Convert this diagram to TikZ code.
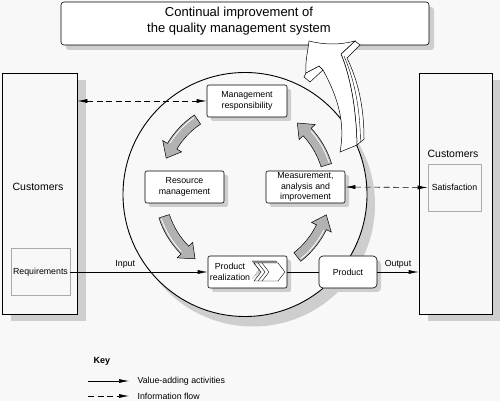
\documentclass[tikz,border=0pt]{standalone}
\usepackage{fontspec}
\setmainfont{Liberation Sans}
\usetikzlibrary{arrows.meta}
\usetikzlibrary{shadows}

\definecolor{bg}{RGB}{248,248,248}
\definecolor{shade}{RGB}{206,206,206}
\definecolor{blockgray}{RGB}{178,178,178}
\definecolor{edgegray}{RGB}{170,170,170}

\tikzset{
  shadowed/.style={drop shadow={shadow xshift=#1, shadow yshift=-#1, opacity=1, fill=shade}},
  stepbox/.style={draw, fill=white, rounded corners=2pt, align=center, inner sep=0pt,
    font=\fontsize{8.8}{10.5}\selectfont, shadowed=4pt},
  custbox/.style={draw, fill=bg, inner sep=0pt, minimum width=#1, minimum height=241pt,
    drop shadow={shadow xshift=9pt, shadow yshift=-7pt, opacity=1, fill=shade}},
  inbox/.style={draw=edgegray, fill=bg, inner sep=0pt, font=\fontsize{8.8}{10.5}\selectfont},
  small/.style={font=\fontsize{8.8}{10.5}\selectfont},
  flow/.style={-{Latex[length=10pt,width=4pt]}},
  info/.style={dashed, dash pattern=on 6pt off 3.5pt, {Latex[length=10pt,width=4pt]}-{Latex[length=10pt,width=4pt]}},
  infokey/.style={dashed, dash pattern=on 6pt off 3.5pt, -{Latex[length=10pt,width=4pt]}},
}

\begin{document}
\begin{tikzpicture}[x=1pt,y=1pt,line width=0.6pt]
  \fill[bg] (0,0) rectangle (500,401);

  % title
  \node[draw, fill=white, rounded corners=3pt, minimum width=368pt, minimum height=43pt,
    shadowed=5pt] (title) at (245,377.5) {};
  \node[align=center, font=\fontsize{13}{16}\selectfont] (titletext) at (239,380)
    {Continual improvement of\\the quality management system};

  % the cycle
  \draw[line width=0.9pt, fill=bg, drop shadow={shadow xshift=8pt, shadow yshift=-10pt, opacity=1, fill=shade}]
    (245,206.5) circle (122);

  % customers
  \node[custbox=75pt] (custL) at (39.5,207.5) {};
  \node[custbox=73pt] (custR) at (455.5,207.5) {};
  \node[font=\fontsize{10.5}{12}\selectfont] (custLtext) at (38,214) {Customers};
  \node[font=\fontsize{10.5}{12}\selectfont] (custRtext) at (453,247) {Customers};
  \node[inbox, minimum width=59pt, minimum height=47pt] (req) at (40.5,129) {Requirements};
  \node[inbox, minimum width=53pt, minimum height=47pt] (satis) at (454.5,213.5) {Satisfaction};

  % processes
  \node[stepbox, minimum width=80pt, minimum height=32pt] (mgmt) at (247,300) {Management\\responsibility};
  \node[stepbox, minimum width=79pt, minimum height=32pt] (res) at (184.5,214) {Resource\\management};
  \node[stepbox, minimum width=79pt, minimum height=32pt] (meas) at (305.5,214) {Measurement,\\analysis and\\improvement};
  \node[stepbox, minimum width=79pt, minimum height=32pt] (prodreal) at (247.5,129) {};
  \node[small, align=center] (prodrealtext) at (230,129) {Product\\realization};
  \node[stepbox, rounded corners=4pt, minimum width=58pt, minimum height=32pt] (prod) at (348,129) {Product};

  % chevron
  \fill[shade] (252,140) -- (276,140) -- (283,131) -- (276,122) -- (252,122) -- (259,131) -- cycle;
  \draw[fill=white, line width=0.4pt] (254,138) -- (278,138) -- (285,129) -- (278,120) -- (254,120) -- (261,129) -- cycle;
  \draw[line width=0.4pt] (258,138) -- (265,129) -- (258,120) (262,138) -- (269,129) -- (262,120);

  % block arrows of the cycle
  \foreach \a/\b in {124/158,198/234,308/343,17/52} {
    \draw[fill=blockgray, line width=0.5pt, shift={(245,211)}]
      (\a:90.5) arc[start angle=\a, end angle=\b-9, radius=90.5] -- ({\b-9}:96) -- (\b:85)
      -- ({\b-9}:74) -- ({\b-9}:79.5) arc[start angle=\b-9, end angle=\a, radius=79.5] -- cycle;
    \draw[white, line width=0.8pt, shift={(245,211)}]
      ({\a+1}:88.5) arc[start angle=\a+1, end angle=\b-10, radius=88.5];
  }

  % connectors
  \draw[flow] (req) -- (prodreal) node[pos=0.4, above, small] {Input};
  \draw (prodreal) -- (prod);
  \draw[flow] (prod) -- (prod -| custR.west) node[midway, above, small] {Output};
  \draw[info] (mgmt.west -| custL.east) -- (mgmt.west);
  \draw[info] (meas.east) -- (satis.west);

  % improvement arrow
  \draw[fill=white, line width=0.5pt] (306,328) -- (319,335) -- (323,331) -- (310,319) -- (304,324) -- cycle;
  \draw[fill=white, line width=0.5pt] (355,360) -- (360,356) -- (347,343)
    .. controls (358,320) and (364,295) .. (364,262) -- (357,256)
    .. controls (356,295) and (350,325) .. (341,347) -- cycle;
  \draw[line width=0.4pt] (344,345) .. controls (354,322) and (360,295) .. (360.5,259);
  \draw[fill=white, line width=0.5pt] (309,360) .. controls (325,356) and (340,356) .. (355,360)
    -- (341,347) .. controls (350,325) and (356,295) .. (357,256) -- (340,249)
    .. controls (345,275) and (340,300) .. (323,331) -- (319,335) -- (306,328)
    .. controls (305,340) and (308,350) .. (309,360) -- cycle;

  % key
  \node[font=\bfseries\fontsize{9}{10.5}\selectfont] (key) at (102,40) {Key};
  \coordinate (va) at (88,20);
  \coordinate (vb) at (129,20);
  \coordinate (ia) at (88,5);
  \coordinate (ib) at (129,5);
  \draw[flow] (va) -- (vb);
  \draw[infokey] (ia) -- (ib);
  \node[small, anchor=west] (valtext) at (134,20) {Value-adding activities};
  \node[small, anchor=west] (inftext) at (134,5) {Information flow};
\end{tikzpicture}
\end{document}
